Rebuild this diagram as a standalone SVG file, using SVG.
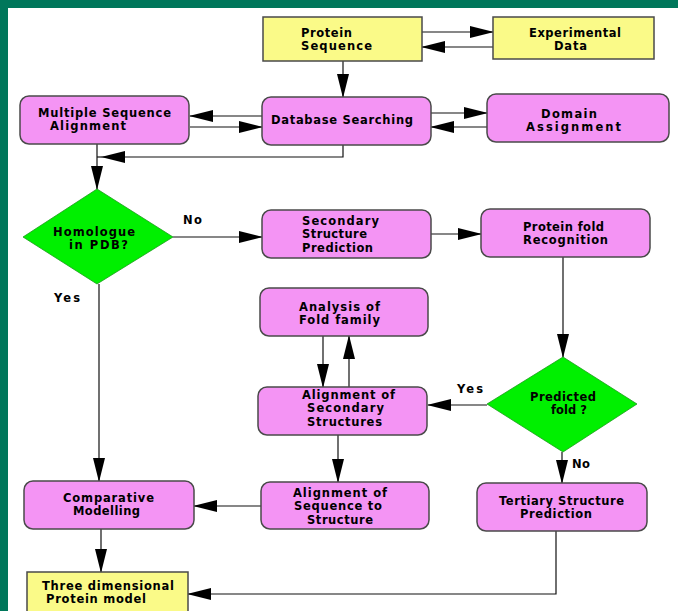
<svg xmlns="http://www.w3.org/2000/svg" width="678" height="611" viewBox="0 0 678 611">
<defs>
<marker id="ah" markerUnits="userSpaceOnUse" markerWidth="24" markerHeight="13" refX="23" refY="6.5" orient="auto" viewBox="0 0 24 13">
<path d="M0,0.5 L24,6.5 L0,12.5 Z" fill="#000"/>
</marker>
<style>
.bg{fill:#00775b}
.pk{fill:#f494f4;stroke:#4a4a4a;stroke-width:1.5}
.yl{fill:#fafa88;stroke:#4a4a4a;stroke-width:1.5}
.gr{fill:#00f000;stroke:#1a9a1a;stroke-width:0.8}
.ln{fill:none;stroke:#111;stroke-width:1.2}
.ar{marker-end:url(#ah)}
text{font-family:"DejaVu Sans","Liberation Sans",Arial,sans-serif;font-weight:bold;font-size:11.5px;fill:#000}
</style>
</defs>
<rect x="0" y="0" width="678" height="611" class="bg"/>
<rect x="8" y="8" width="670" height="603" fill="#fff"/>

<g id="connectors">
<line class="ln ar" x1="422" y1="32" x2="493" y2="32"/>
<line class="ln ar" x1="493" y1="47" x2="422" y2="47"/>
<line class="ln ar" x1="343" y1="61" x2="343" y2="97"/>
<line class="ln ar" x1="262" y1="116" x2="190" y2="116"/>
<line class="ln ar" x1="190" y1="127" x2="262" y2="127"/>
<line class="ln ar" x1="431" y1="113" x2="487" y2="113"/>
<line class="ln ar" x1="487" y1="127" x2="431" y2="127"/>
<polyline class="ln ar" points="343,145 343,157 102,157"/>
<line class="ln" x1="102" y1="157" x2="97" y2="157"/>
<line class="ln ar" x1="97" y1="144" x2="97" y2="189"/>
<line class="ln ar" x1="173" y1="237" x2="262" y2="237"/>
<line class="ln ar" x1="431" y1="234" x2="481" y2="234"/>
<line class="ln ar" x1="563" y1="257" x2="563" y2="357"/>
<line class="ln ar" x1="487" y1="405" x2="428" y2="405"/>
<line class="ln ar" x1="562" y1="452" x2="562" y2="483"/>
<line class="ln ar" x1="323" y1="336" x2="323" y2="387"/>
<line class="ln ar" x1="349" y1="387" x2="349" y2="336"/>
<line class="ln ar" x1="338" y1="435" x2="338" y2="482"/>
<line class="ln ar" x1="99" y1="284" x2="99" y2="481"/>
<line class="ln ar" x1="261" y1="506" x2="194" y2="506"/>
<line class="ln ar" x1="101" y1="529" x2="101" y2="572"/>
<polyline class="ln ar" points="556,531 556,594 188,594"/>
</g>

<g id="protein-sequence">
<rect class="yl" x="263" y="17" width="159" height="44"/>
<text x="301" y="36.75" textLength="51">Protein</text>
<text x="301" y="50.25" textLength="71">Sequence</text>
</g>
<g id="experimental-data">
<rect class="yl" x="493" y="17" width="161" height="42"/>
<text x="529" y="36.75" textLength="92">Experimental</text>
<text x="554" y="50.25" textLength="33">Data</text>
</g>
<g id="multiple-sequence-alignment">
<rect class="pk" x="20" y="96" width="169" height="48" rx="9"/>
<text x="38" y="116.75" textLength="133">Multiple Sequence</text>
<text x="50" y="130.25" textLength="76">Alignment</text>
</g>
<g id="database-searching">
<rect class="pk" x="262" y="97" width="169" height="48" rx="9"/>
<text x="271" y="124" textLength="142">Database Searching</text>
</g>
<g id="domain-assignment">
<rect class="pk" x="487" y="94" width="182" height="48" rx="9"/>
<text x="541" y="117.75" textLength="56">Domain</text>
<text x="526" y="131.25" textLength="95">Assignment</text>
</g>
<g id="homologue">
<polygon class="gr" points="97,189 173,237 97,284 23,237"/>
<text x="53" y="235.75" textLength="82">Homologue</text>
<text x="69" y="249.25" textLength="59">in PDB?</text>
</g>
<g id="secondary-structure-prediction">
<rect class="pk" x="262" y="210" width="169" height="48" rx="9"/>
<text x="302" y="224.5" textLength="77">Secondary</text>
<text x="302" y="238" textLength="65">Structure</text>
<text x="302" y="251.5" textLength="71">Prediction</text>
</g>
<g id="protein-fold-recognition">
<rect class="pk" x="481" y="209" width="169" height="48" rx="9"/>
<text x="523" y="230.75" textLength="81">Protein fold</text>
<text x="523" y="244.25" textLength="85">Recognition</text>
</g>
<g id="analysis-fold-family">
<rect class="pk" x="260" y="288" width="168" height="48" rx="9"/>
<text x="299" y="310.75" textLength="81">Analysis of</text>
<text x="299" y="324.25" textLength="81">Fold family</text>
</g>
<g id="alignment-secondary-structures">
<rect class="pk" x="258" y="387" width="169" height="48" rx="9"/>
<text x="302" y="398.5" textLength="93">Alignment of</text>
<text x="307" y="412" textLength="77">Secondary</text>
<text x="307" y="425.5" textLength="75">Structures</text>
</g>
<g id="predicted-fold">
<polygon class="gr" points="563,357 637,404 563,452 487,404"/>
<text x="530" y="400.75" textLength="66">Predicted</text>
<text x="551" y="414.25" textLength="36">fold ?</text>
</g>
<g id="comparative-modelling">
<rect class="pk" x="24" y="481" width="170" height="48" rx="9"/>
<text x="63" y="501.75" textLength="91">Comparative</text>
<text x="73" y="515.25" textLength="67">Modelling</text>
</g>
<g id="alignment-sequence-structure">
<rect class="pk" x="261" y="482" width="168" height="47" rx="9"/>
<text x="293" y="496.5" textLength="94">Alignment of</text>
<text x="294" y="510" textLength="88">Sequence to</text>
<text x="307" y="523.5" textLength="66">Structure</text>
</g>
<g id="tertiary-structure-prediction">
<rect class="pk" x="477" y="483" width="170" height="48" rx="9"/>
<text x="499" y="504.75" textLength="125">Tertiary Structure</text>
<text x="520" y="518.25" textLength="72">Prediction</text>
</g>
<g id="three-dimensional-model">
<rect class="yl" x="27" y="572" width="161" height="45"/>
<text x="42" y="589.75" textLength="132">Three dimensional</text>
<text x="46" y="603.25" textLength="100">Protein model</text>
</g>

<g id="labels">
<text x="183" y="224" textLength="19">No</text>
<text x="54" y="302" textLength="26">Yes</text>
<text x="457" y="393" textLength="26">Yes</text>
<text x="572" y="468" textLength="18">No</text>
</g>
</svg>
